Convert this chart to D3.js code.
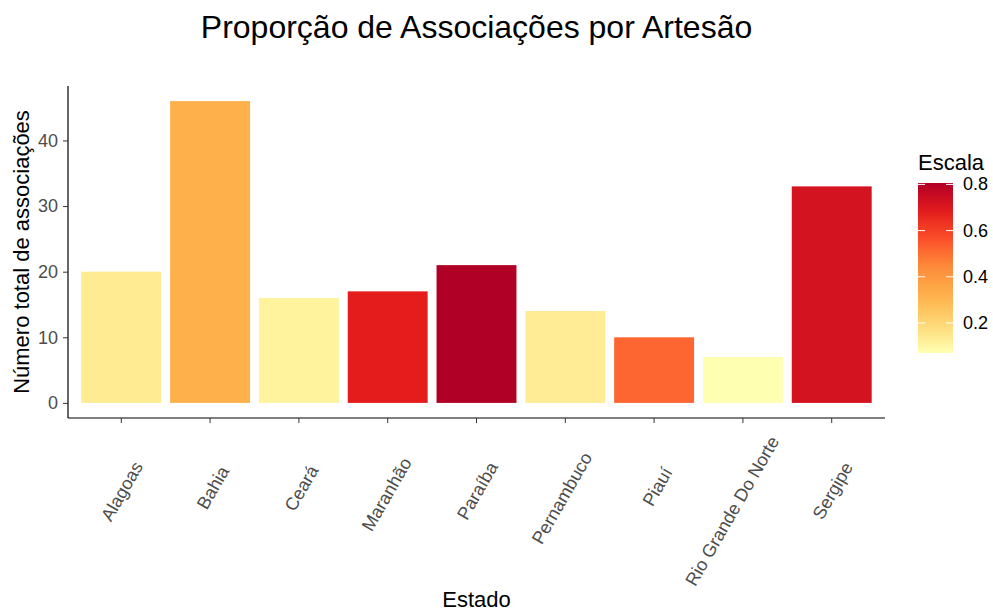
<!DOCTYPE html>
<html>
<head>
<meta charset="utf-8">
<script src="https://cdn.jsdelivr.net/npm/d3@7"></script>
<style>
    body { margin: 0; background: #fff; }
    text { font-family: "Liberation Sans", Arial, sans-serif; }
</style>
</head>
<body>
<div id="chart"></div>
<script>
const estados = ["Alagoas", "Bahia", "Ceará", "Maranhão", "Paraíba", "Pernambuco", "Piauí", "Rio Grande Do Norte", "Sergipe"];
const totalAssociacoes = [20, 46, 16, 17, 21, 14, 10, 7, 33];
const escala = [0.135, 0.32, 0.11, 0.68, 0.806, 0.13, 0.52, 0.07, 0.72];
const yTicks = [0, 10, 20, 30, 40];
const legendTicks = [0.2, 0.4, 0.6, 0.8];
const ylOrRd = ["#FFFFB2", "#FED976", "#FEB24C", "#FD8D3C", "#FC4E2A", "#E31A1C", "#B10026"];

function createBarChart() {
    const width = 993;
    const height = 611;
    const panel = { left: 68, right: 885, top: 86, bottom: 418 };

    const svg = d3.select('#chart').html('').append('svg')
        .attr('width', width)
        .attr('height', height);

    const data = estados.map((e, i) => ({ estado: e, total: totalAssociacoes[i], escala: escala[i] }));

    const x = d3.scaleBand()
        .domain(estados)
        .range([panel.left, panel.right])
        .paddingInner(0.1)
        .paddingOuter(0.15);

    const yMax = d3.max(totalAssociacoes);
    const y = d3.scaleLinear()
        .domain([-yMax * 0.05, yMax * 1.05])
        .range([panel.bottom, panel.top]);

    // gradient like scale_fill_distiller(YlOrRd), interpolated in Lab
    const ext = d3.extent(escala);
    const color = d3.scaleLinear()
        .domain(ylOrRd.map((c, i) => ext[0] + (ext[1] - ext[0]) * i / (ylOrRd.length - 1)))
        .range(ylOrRd)
        .interpolate(d3.interpolateLab);

    svg.append('g')
        .selectAll('rect')
        .data(data)
        .join('rect')
        .attr('x', d => x(d.estado))
        .attr('width', x.bandwidth())
        .attr('y', d => y(d.total))
        .attr('height', d => y(0) - y(d.total))
        .attr('fill', d => color(d.escala));

    // y axis
    const yAxis = svg.append('g')
        .attr('transform', `translate(${panel.left},0)`)
        .call(d3.axisLeft(y).tickValues(yTicks).tickSize(5).tickPadding(5));
    yAxis.select('.domain').attr('d', `M0,${panel.top}V${panel.bottom}`).attr('stroke', '#000').attr('stroke-width', 1.2);
    yAxis.selectAll('.tick line').attr('stroke', '#333');
    yAxis.selectAll('.tick text')
        .attr('fill', '#4D4D4D')
        .style('font-size', '18px');

    // x axis
    const xAxis = svg.append('g')
        .attr('transform', `translate(0,${panel.bottom})`)
        .call(d3.axisBottom(x).tickSize(5).tickFormat(''));
    xAxis.select('.domain').attr('d', `M${panel.left},0H${panel.right}`).attr('stroke', '#000').attr('stroke-width', 1.2);
    xAxis.selectAll('.tick line').attr('stroke', '#333');

    // rotated x labels
    const labels = svg.append('g').selectAll('text')
        .data(estados)
        .join('text')
        .attr('fill', '#4D4D4D')
        .style('font-size', '18px')
        .attr('text-anchor', 'middle')
        .attr('dominant-baseline', 'central')
        .text(d => d);
    labels.each(function(d) {
        const L = this.getComputedTextLength();
        const cx = x(d) + x.bandwidth() / 2 + 8 - 0.11 * L;
        const cy = 479 + 0.19 * L;
        d3.select(this).attr('transform', `translate(${cx},${cy}) rotate(-60)`);
    });

    // titles
    svg.append('text')
        .attr('x', (panel.left + panel.right) / 2)
        .attr('y', 38)
        .attr('text-anchor', 'middle')
        .style('font-size', '32px')
        .attr('fill', '#000')
        .text('Proporção de Associações por Artesão');

    svg.append('text')
        .attr('x', (panel.left + panel.right) / 2)
        .attr('y', 607)
        .attr('text-anchor', 'middle')
        .style('font-size', '22px')
        .attr('fill', '#000')
        .text('Estado');

    svg.append('text')
        .attr('transform', `translate(29,${(panel.top + panel.bottom) / 2}) rotate(-90)`)
        .attr('text-anchor', 'middle')
        .style('font-size', '22px')
        .attr('fill', '#000')
        .text('Número total de associações');

    // legend
    const leg = { x: 918, w: 35, top: 183, bottom: 353 };
    const grad = svg.append('defs').append('linearGradient')
        .attr('id', 'escala-grad')
        .attr('x1', 0).attr('y1', 1).attr('x2', 0).attr('y2', 0);
    d3.range(0, 1.0001, 0.05).forEach(t => {
        grad.append('stop')
            .attr('offset', t)
            .attr('stop-color', color(ext[0] + t * (ext[1] - ext[0])));
    });

    const ly = d3.scaleLinear().domain(ext).range([leg.bottom, leg.top]);

    svg.append('rect')
        .attr('x', leg.x)
        .attr('y', leg.top)
        .attr('width', leg.w)
        .attr('height', leg.bottom - leg.top)
        .attr('fill', 'url(#escala-grad)');

    const lt = svg.append('g').selectAll('g')
        .data(legendTicks)
        .join('g')
        .attr('transform', d => `translate(0,${ly(d)})`);
    lt.append('line')
        .attr('x1', leg.x).attr('x2', leg.x + 7)
        .attr('stroke', '#fff').attr('stroke-width', 1);
    lt.append('line')
        .attr('x1', leg.x + leg.w - 7).attr('x2', leg.x + leg.w)
        .attr('stroke', '#fff').attr('stroke-width', 1);
    lt.append('text')
        .attr('x', leg.x + leg.w + 10)
        .attr('dominant-baseline', 'central')
        .style('font-size', '18px')
        .attr('fill', '#000')
        .text(d => d3.format('.1f')(d));

    svg.append('text')
        .attr('x', leg.x)
        .attr('y', 170)
        .style('font-size', '22px')
        .attr('fill', '#000')
        .text('Escala');
}

createBarChart();
</script>
</body>
</html>
